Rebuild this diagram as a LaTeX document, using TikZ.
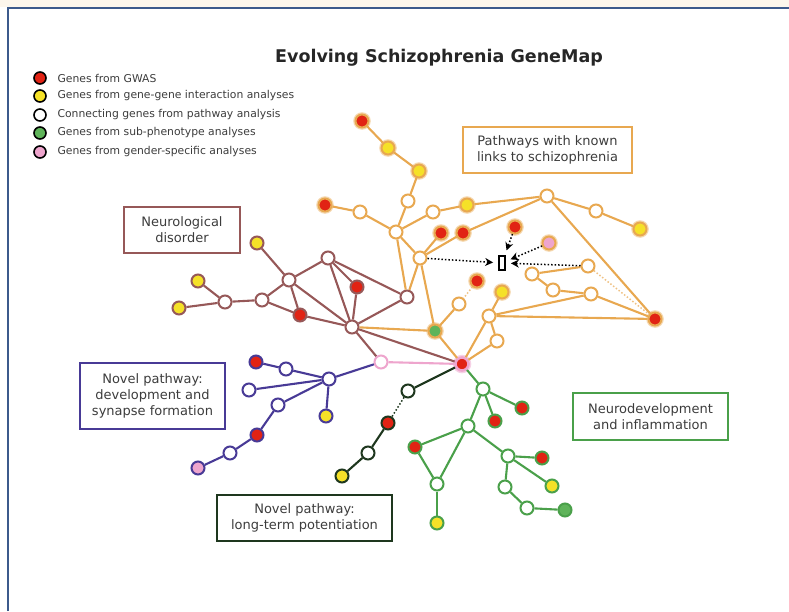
\documentclass[tikz,border=0pt]{standalone}
\usepackage{fontspec}
\setmainfont{DejaVu Sans}
\usepackage{xcolor}
\usetikzlibrary{arrows.meta}

\definecolor{pathorange}{RGB}{232,168,80}
\definecolor{neurobrown}{RGB}{150,88,88}
\definecolor{synpurple}{RGB}{72,58,150}
\definecolor{ltpgreen}{RGB}{30,55,30}
\definecolor{inflgreen}{RGB}{74,160,74}
\definecolor{gwasred}{RGB}{225,35,20}
\definecolor{ggyellow}{RGB}{245,225,40}
\definecolor{subgreen}{RGB}{95,180,90}
\definecolor{genpink}{RGB}{238,165,205}
\definecolor{framebl}{RGB}{60,90,140}
\definecolor{cream}{RGB}{252,246,236}
\definecolor{txtgray}{RGB}{60,60,60}

\begin{document}
\begin{tikzpicture}[x=1pt, y=-1pt,
    gene/.style={circle, draw, line width=2pt, minimum size=13pt, inner sep=0pt},
    glow/.style={preaction={draw=pathorange!45, line width=4.5pt}},
    legdot/.style={circle, draw=black, line width=1.6pt, minimum size=12pt, inner sep=0pt},
    link/.style={line width=2.1pt},
    faint/.style={line width=1.5pt, dotted},
    hint/.style={black, line width=1.5pt, dotted, shorten >=5pt, -{Stealth[length=8pt, width=8pt]}},
    tagbox/.style={draw, line width=1.8pt, align=center, inner sep=0pt, font=\fontsize{13}{16}\selectfont},
    every node/.style={text=txtgray}
]
    \useasboundingbox (0,0) rectangle (789,611);
    \fill[cream] (0,0) rectangle (789,7);
    \draw[framebl, line width=2.5pt] (8,611) -- (8,8) -- (789,8);

    \node[font=\bfseries\fontsize{17.5}{20}\selectfont, text=black!85] (title) at (439,58) {Evolving Schizophrenia GeneMap};

    % legend
    \foreach \y/\f/\t [count=\i] in {78/gwasred/Genes from GWAS,
        96/ggyellow/Genes from gene-gene interaction analyses,
        115/white/Connecting genes from pathway analysis,
        133/subgreen/Genes from sub-phenotype analyses,
        152/genpink/Genes from gender-specific analyses} {
        \node[legdot, fill=\f] (dot\i) at (40,\y) {};
        \node[anchor=west, font=\fontsize{10.8}{12}\selectfont] (lab\i) at (54,\y) {\t};
    }

    % labels of the pathways
    \node[tagbox, draw=pathorange, minimum width=169pt, minimum height=46pt] (pathbox) at (547.5,150) {Pathways with known\\links to schizophrenia};
    \node[tagbox, draw=neurobrown, minimum width=116pt, minimum height=46pt] (neurobox) at (182,230) {Neurological\\disorder};
    \node[tagbox, draw=synpurple, minimum width=145pt, minimum height=66pt] (synbox) at (152.5,396) {Novel pathway:\\development and\\synapse formation};
    \node[tagbox, draw=ltpgreen, minimum width=175pt, minimum height=46pt] (ltpbox) at (304.5,518) {Novel pathway:\\long-term potentiation};
    \node[tagbox, draw=inflgreen, minimum width=155pt, minimum height=47pt] (inflbox) at (650.5,416.5) {Neurodevelopment\\and inflammation};

    % known pathways
    \foreach \nm/\x/\y in {p4/408/201, p6/360/212, p7/396/232, p8/433/212, p10/547/196,
        p11/596/211, p15/420/258, p18/588/266, p19/532/274, p20/553/290, p21/591/294,
        p24/459/304, p26/489/316, p28/497/341} {
        \node[gene, draw=pathorange, fill=white] (\nm) at (\x,\y) {};
    }
    \foreach \nm/\x/\y/\f in {p1/362/121/gwasred, p2/388/148/ggyellow, p3/419/171/ggyellow,
        p5/325/205/gwasred, p9/467/205/ggyellow, p12/640/229/ggyellow, p13/441/233/gwasred,
        p14/463/233/gwasred, p16/515/227/gwasred, p17/549/243/genpink, p22/655/319/gwasred,
        p23/477/281/gwasred, p25/502/292/ggyellow, p27/435/331/subgreen} {
        \node[gene, glow, draw=pathorange, fill=\f] (\nm) at (\x,\y) {};
    }
    \node[draw=black, line width=1.8pt, fill=white, minimum width=6pt, minimum height=14pt, inner sep=0pt] (target) at (502,263) {};

    % neurological disorder
    \foreach \nm/\x/\y/\f in {n1/257/243/ggyellow, n2/198/281/ggyellow, n3/179/308/ggyellow,
        n4/225/302/white, n5/262/300/white, n6/289/280/white, n7/328/258/white,
        n8/357/287/gwasred, n9/300/315/gwasred, n10/352/327/white, n11/407/297/white} {
        \node[gene, draw=neurobrown, fill=\f] (\nm) at (\x,\y) {};
    }

    % gender-specific genes
    \node[gene, draw=genpink, fill=white] (pk) at (381,362) {};
    \node[gene, draw=genpink, fill=gwasred, line width=2.6pt, preaction={draw=genpink!50, line width=5.5pt}] (hub) at (462,364) {};

    % development and synapse formation
    \foreach \nm/\x/\y/\f in {s1/256/362/gwasred, s2/286/369/white, s3/329/379/white,
        s4/249/390/white, s5/326/416/ggyellow, s6/278/405/white, s7/257/435/gwasred,
        s8/230/453/white, s9/198/468/genpink} {
        \node[gene, draw=synpurple, fill=\f] (\nm) at (\x,\y) {};
    }

    % long-term potentiation
    \foreach \nm/\x/\y/\f in {l1/408/391/white, l2/388/423/gwasred, l3/368/453/white, l4/342/476/ggyellow} {
        \node[gene, draw=ltpgreen, fill=\f] (\nm) at (\x,\y) {};
    }

    % neurodevelopment and inflammation
    \foreach \nm/\x/\y/\f in {d1/483/389/white, d2/522/408/gwasred, d3/495/421/gwasred,
        d4/468/426/white, d5/415/447/gwasred, d6/508/456/white, d7/542/458/gwasred,
        d8/437/484/white, d9/505/487/white, d10/552/486/ggyellow, d11/527/508/white,
        d12/565/510/subgreen, d13/437/523/ggyellow} {
        \node[gene, draw=inflgreen, fill=\f] (\nm) at (\x,\y) {};
    }

    % links
    \foreach \a/\b in {p1/p2, p2/p3, p3/p4, p4/p7, p5/p6, p6/p7, p7/p8, p8/p9, p9/p10,
        p10/p11, p11/p12, p7/p15, p15/p13, p15/p14, p14/p10, p7/n11, p15/n11, p15/p27,
        p10/p22, p19/p18, p19/p20, p20/p21, p21/p22, p26/p22, p26/p21, p26/p25, p26/hub,
        p26/p28, p28/hub, p24/p27, p27/hub, n10/p27} {
        \draw[link, pathorange] (\a) -- (\b);
    }
    \draw[faint, pathorange!70] (p18) -- (p22);
    \draw[faint, pathorange!70] (p23) -- (p24);

    \foreach \a/\b in {n1/n6, n2/n4, n3/n4, n4/n5, n5/n6, n5/n9, n6/n7, n6/n9, n6/n10,
        n7/n8, n7/n10, n7/n11, n8/n10, n9/n10, n10/n11, n10/pk, n10/hub} {
        \draw[link, neurobrown] (\a) -- (\b);
    }
    \draw[link, genpink] (pk) -- (hub);

    \foreach \a/\b in {s1/s2, s2/s3, s4/s3, s6/s3, s3/s5, s3/pk, s6/s7, s7/s8, s8/s9} {
        \draw[link, synpurple] (\a) -- (\b);
    }

    \draw[link, ltpgreen] (hub) -- (l1);
    \draw[faint, ltpgreen] (l1) -- (l2);
    \draw[link, ltpgreen] (l2) -- (l3);
    \draw[link, ltpgreen] (l3) -- (l4);

    \foreach \a/\b in {hub/d1, d1/d2, d1/d3, d1/d4, d4/d5, d4/d8, d4/d6, d5/d8, d8/d13,
        d6/d7, d6/d10, d6/d9, d9/d11, d11/d12} {
        \draw[link, inflgreen] (\a) -- (\b);
    }

    % arrows to the common gene
    \draw[hint] (p15) -- (target);
    \draw[hint] (p16) -- (target);
    \draw[hint] (p17) -- (target);
    \draw[hint] (p18) -- (target);
\end{tikzpicture}
\end{document}
